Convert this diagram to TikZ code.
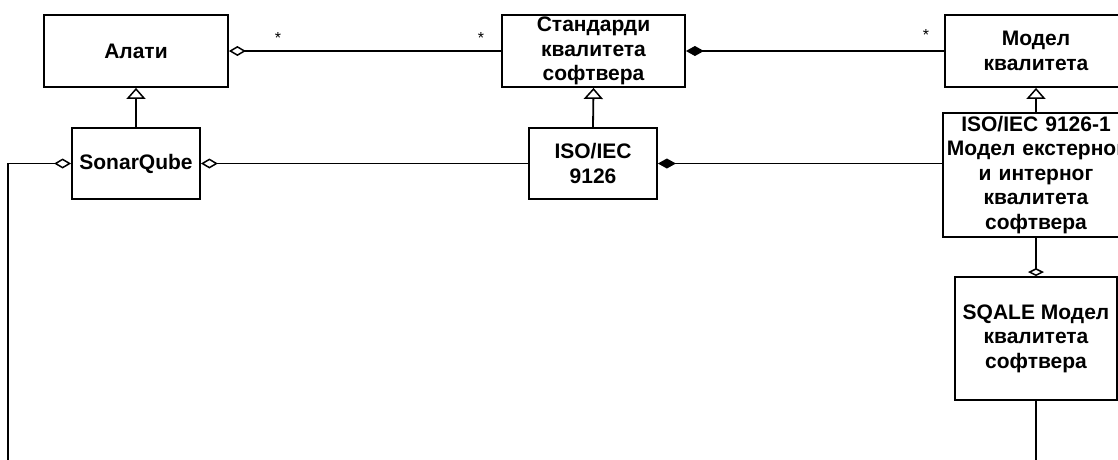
\documentclass[tikz,border=0pt]{standalone}
\usepackage{fontspec}
\setmainfont{Liberation Sans}
\usetikzlibrary{arrows.meta}
\begin{document}
\begin{tikzpicture}[x=1pt,y=-1pt,
  cls/.style={draw, line width=1.8pt, inner sep=0pt, align=center,
    font=\bfseries\fontsize{21}{24.5}\selectfont},
  link/.style={line width=1.8pt},
  agg/.style={link, {Diamond[open,length=17pt,width=10pt,line width=1.5pt]}-},
  aggflat/.style={link, {Diamond[open,length=8pt,width=16pt,line width=1.5pt]}-},
  comp/.style={link, {Diamond[length=18pt,width=10pt]}-},
  gen/.style={link, -{Triangle[open,length=11pt,width=19pt,line width=1.5pt]}},
  mult/.style={font=\fontsize{16}{18}\selectfont, anchor=base, inner sep=0pt}]
\useasboundingbox (0,0) rectangle (1118,459);
\clip (0,0) rectangle (1118,459);

% classes
\node[cls, minimum width=184pt, minimum height=72pt] (alati) at (136,51) {Алати};
\node[cls, minimum width=183pt, minimum height=72pt] (stand) at (593.5,51) {Стандарди\\квалитета\\софтвера};
\node[cls, minimum width=182pt, minimum height=72pt] (model) at (1036,51) {Модел\\квалитета};
\node[cls, minimum width=128pt, minimum height=71pt] (sonar) at (136,163.5) {SonarQube};
\node[cls, minimum width=128pt, minimum height=71pt] (iso) at (593,163.5) {ISO/IEC\\9126};
\node[cls, text width=186pt, minimum height=124pt] (iso1) at (1036,175) {ISO/IEC 9126-1\\Модел~екстерног\\и интерног\\квалитета\\софтвера};
\node[cls, minimum width=162pt, minimum height=123pt] (sqale) at (1036,338.5) {SQALE Модел\\квалитета\\софтвера};

% free ends leaving the drawing
\coordinate (sonarout) at (8,470);
\coordinate (sqaleout) at (1036,470);

% associations
\draw[agg] (alati.east) -- (stand.west);
\draw[comp] (stand.east) -- (model.west);
\draw[agg] (sonar.east) -- (iso.west);
\draw[comp] (iso.east) -- (iso.east -| iso1.west);
\draw[aggflat] (sqale.north) -- (iso1.south);
\draw[agg] (sonar.west) -| (sonarout);
\draw[link] (sqale.south) -- (sqaleout);

% generalizations
\draw[gen] (sonar.north) -- (alati.south);
\draw[gen] (iso.north) -- (stand.south);
\draw[gen] (iso1.north) -- (model.south);

% multiplicities
\node[mult] (m1) at (278,43) {*};
\node[mult] (m2) at (481,43) {*};
\node[mult] (m3) at (926,40) {*};
\end{tikzpicture}
\end{document}
